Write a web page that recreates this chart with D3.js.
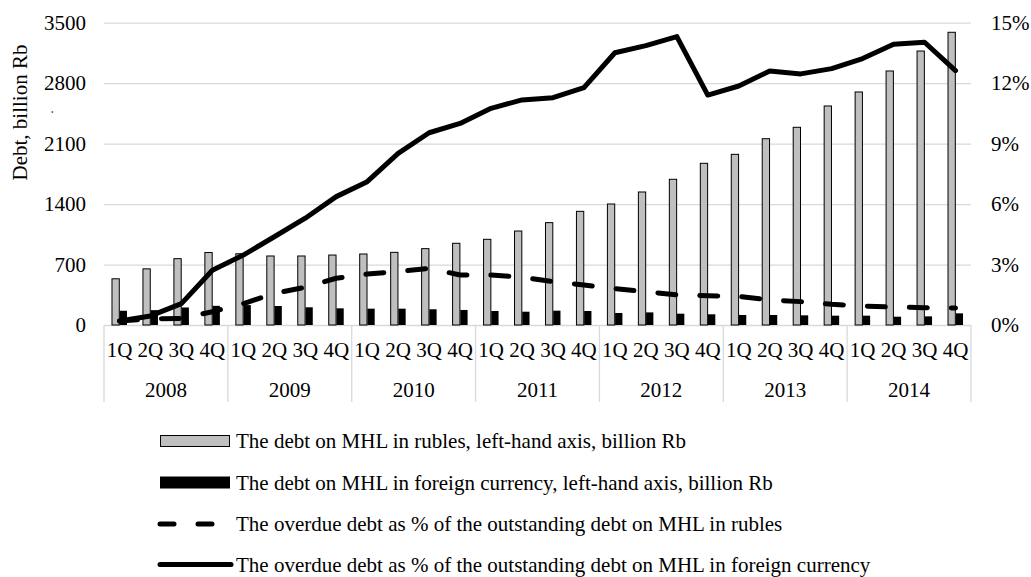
<!DOCTYPE html>
<html>
<head>
<meta charset="utf-8">
<script src="https://cdn.jsdelivr.net/npm/d3@7/dist/d3.min.js"></script>
<style>
  body { margin: 0; background: #fff; }
  svg { display: block; font-family: "Liberation Serif", "Times New Roman", serif; }
</style>
</head>
<body>
<svg id="chart" width="1031" height="577"></svg>
<script>
// data
const years = ['2008', '2009', '2010', '2011', '2012', '2013', '2014'];
const quarters = ['1Q', '2Q', '3Q', '4Q'];

// debt on MHL, billion Rb (left axis)
const rubDebt = [535, 650, 768, 839, 825, 799, 799, 810, 822, 841, 884, 946,
  992, 1088, 1185, 1316, 1401, 1540, 1687, 1872, 1976, 2157, 2289, 2536,
  2698, 2941, 3172, 3389];
const fxDebt = [165, 172, 203, 222, 230, 220, 205, 193, 189, 189, 182, 174,
  162, 154, 166, 162, 139, 146, 131, 124, 116, 116, 112, 108,
  108, 96, 100, 135];

// overdue debt, % of outstanding (right axis)
const rubOverdue = [0.2, 0.3, 0.33, 0.66, 1.06, 1.57, 1.87, 2.32, 2.53, 2.65, 2.81, 2.48,
  2.48, 2.37, 2.15, 1.99, 1.8, 1.65, 1.5, 1.45, 1.42, 1.24, 1.16, 1.03,
  0.94, 0.89, 0.86, 0.84];
const fxOverdue = [0.2, 0.45, 1.06, 2.72, 3.47, 4.38, 5.3, 6.37, 7.11, 8.52, 9.54, 10.0,
  10.75, 11.17, 11.28, 11.78, 13.51, 13.86, 14.31, 11.41, 11.86, 12.6, 12.46, 12.72,
  13.22, 13.93, 14.03, 12.62];

const leftTicks = [0, 700, 1400, 2100, 2800, 3500];
const rightTicks = [0, 3, 6, 9, 12, 15];

const legendLabels = [
  'The debt on MHL in rubles, left-hand axis, billion Rb',
  'The debt on MHL in foreign currency, left-hand axis, billion Rb',
  'The overdue debt as % of the outstanding debt on MHL in rubles',
  'The overdue debt as % of the outstanding debt on MHL in foreign currency'
];

///////////////////////////////////////////////////////////////
const plot = { left: 104, right: 971, top: 22.7, bottom: 325 };
const fontSize = 21;
const gridColor = '#d9d9d9';

const cats = [];
years.forEach(yr => quarters.forEach(q => cats.push(yr + '-' + q)));

const x = d3.scaleBand().domain(cats).range([plot.left, plot.right]).padding(0);
const xSeries = d3.scaleBand().domain(['rub', 'fx']).range([-7.5, 7.5]).paddingInner(0.05);
const y = d3.scaleLinear().domain([0, 3500]).range([plot.bottom, plot.top]);
const y2 = d3.scaleLinear().domain([0, 15]).range([plot.bottom, plot.top]);
const cx = k => x(k) + x.bandwidth() / 2;

const svg = d3.select('#chart');

function styleAxis(g) {
  g.attr('font-family', null).attr('font-size', null);
  g.select('.domain').remove();
  g.selectAll('text').attr('font-size', fontSize).attr('fill', '#000');
}

// gridlines
const grid = svg.append('g')
  .attr('transform', 'translate(' + plot.left + ',0)')
  .call(d3.axisLeft(y).tickValues(leftTicks).tickSize(-(plot.right - plot.left)).tickFormat(''));
grid.select('.domain').remove();
grid.selectAll('line').attr('stroke', gridColor).attr('stroke-width', 1.3);

// left axis labels
svg.append('g')
  .attr('transform', 'translate(' + plot.left + ',0)')
  .call(d3.axisLeft(y).tickValues(leftTicks).tickSize(0).tickPadding(18).tickFormat(d3.format('d')))
  .call(styleAxis);

// right axis labels
svg.append('g')
  .attr('transform', 'translate(' + plot.right + ',0)')
  .call(d3.axisRight(y2).tickValues(rightTicks).tickSize(0).tickPadding(20).tickFormat(d => d + '%'))
  .call(styleAxis);

// axis title
svg.append('text')
  .attr('transform', 'translate(27,112.5) rotate(-90)')
  .attr('text-anchor', 'middle')
  .attr('font-size', fontSize)
  .text('Debt, billion Rb');
svg.append('text')
  .attr('transform', 'translate(53,112) rotate(-90)')
  .attr('text-anchor', 'middle')
  .attr('font-size', 12)
  .text('.');

// category axis: quarter row, year row, year separators
const catAxis = svg.append('g');
const bounds = years.map(yr => x(yr + '-1Q')).concat([plot.right]);
catAxis.selectAll('line.sep').data(bounds).join('line')
  .attr('class', 'sep')
  .attr('x1', d => d).attr('x2', d => d)
  .attr('y1', plot.bottom).attr('y2', 402)
  .attr('stroke', gridColor).attr('stroke-width', 1.3);
catAxis.selectAll('text.q').data(cats).join('text')
  .attr('class', 'q')
  .attr('x', d => cx(d)).attr('y', 357)
  .attr('text-anchor', 'middle')
  .attr('font-size', fontSize)
  .text(d => d.split('-')[1]);
catAxis.selectAll('text.yr').data(years).join('text')
  .attr('class', 'yr')
  .attr('x', d => x(d + '-1Q') + x.bandwidth() * 2).attr('y', 396.5)
  .attr('text-anchor', 'middle')
  .attr('font-size', fontSize)
  .text(d => d);

// bars
const bars = svg.append('g');
bars.selectAll('rect.rub').data(cats).join('rect')
  .attr('class', 'rub')
  .attr('x', d => cx(d) + xSeries('rub'))
  .attr('width', xSeries.bandwidth())
  .attr('y', (d, i) => y(rubDebt[i]))
  .attr('height', (d, i) => y(0) - y(rubDebt[i]))
  .attr('fill', '#bfbfbf').attr('stroke', '#000').attr('stroke-width', 1);
bars.selectAll('rect.fx').data(cats).join('rect')
  .attr('class', 'fx')
  .attr('x', d => cx(d) + xSeries('fx'))
  .attr('width', xSeries.bandwidth())
  .attr('y', (d, i) => y(fxDebt[i]))
  .attr('height', (d, i) => y(0) - y(fxDebt[i]))
  .attr('fill', '#000');

// lines
const line = vals => d3.line()
  .x((d, i) => cx(cats[i]))
  .y(d => y2(d))(vals);

svg.append('path')
  .attr('d', line(rubOverdue))
  .attr('fill', 'none').attr('stroke', '#000').attr('stroke-width', 5)
  .attr('stroke-linecap', 'round').attr('stroke-linejoin', 'round')
  .attr('stroke-dasharray', '18,24');
svg.append('path')
  .attr('d', line(fxOverdue))
  .attr('fill', 'none').attr('stroke', '#000').attr('stroke-width', 5)
  .attr('stroke-linecap', 'round').attr('stroke-linejoin', 'round');

// legend
const legendY = [441, 482.5, 524, 564.5];
const legend = svg.append('g');
legend.selectAll('text').data(legendLabels).join('text')
  .attr('x', 236).attr('y', (d, i) => legendY[i])
  .attr('dy', '0.35em')
  .attr('font-size', fontSize)
  .text(d => d);
legend.append('rect')
  .attr('x', 160.5).attr('y', legendY[0] - 5.5).attr('width', 69).attr('height', 11)
  .attr('fill', '#bfbfbf').attr('stroke', '#000').attr('stroke-width', 1);
legend.append('rect')
  .attr('x', 160).attr('y', legendY[1] - 6).attr('width', 70).attr('height', 12)
  .attr('fill', '#000');
legend.append('line')
  .attr('x1', 160).attr('x2', 229).attr('y1', legendY[2]).attr('y2', legendY[2])
  .attr('stroke', '#000').attr('stroke-width', 5)
  .attr('stroke-linecap', 'round').attr('stroke-dasharray', '14,24');
legend.append('line')
  .attr('x1', 160).attr('x2', 231).attr('y1', legendY[3]).attr('y2', legendY[3])
  .attr('stroke', '#000').attr('stroke-width', 5)
  .attr('stroke-linecap', 'round');
</script>
</body>
</html>
